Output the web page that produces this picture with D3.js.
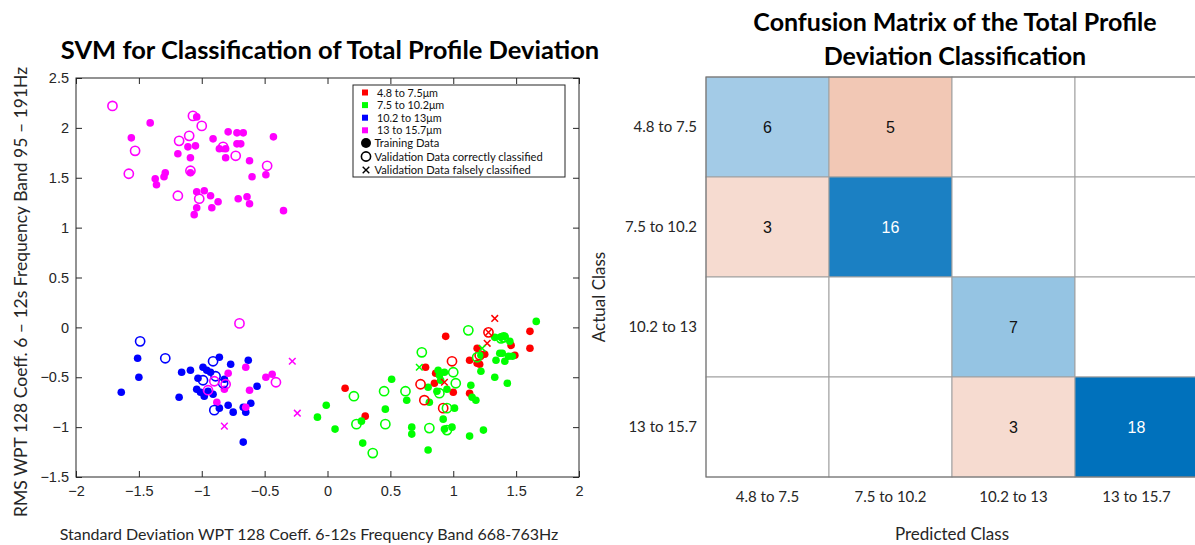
<!DOCTYPE html>
<html>
<head>
<meta charset="utf-8">
<script src="https://cdn.jsdelivr.net/npm/d3@7"></script>
<style>
  body { margin: 0; background: #fff; }
  text { font-family: Lato, sans-serif; }
  .tick text { font-family: "Liberation Sans", Arial, sans-serif; font-size: 14.5px; fill: #262626; }
</style>
</head>
<body>
<div id="chart"></div>
<script>
// ---- scatter data, [x, y] ----
var redTrain = [[0.14,-0.61],[0.30,-0.89],[0.78,-0.40],[0.86,-0.46],[0.85,-0.56],[0.94,-0.09],[1.00,-0.65],
  [1.13,-0.33],[1.13,-0.66],[1.19,-0.21],[1.19,-0.36],[1.21,-0.37],[1.25,-0.27],[1.46,-0.18],[1.49,-0.28],
  [1.61,-0.04],[1.61,-0.21]]
var redValid = [[0.74,-0.57],[0.77,-0.73],[0.92,-0.81],[0.99,-0.34],[1.21,-0.28],[1.28,-0.05]]
var redFalse = [[1.33,0.09],[1.27,-0.16],[0.93,-0.55],[1.28,-0.05]]

var greenTrain = [[-0.08,-0.90],[-0.01,-0.78],[0.06,-1.02],[0.28,-1.16],[0.27,-0.94],[0.46,-0.82],[0.51,-0.52],
  [0.63,-0.73],[0.67,-1.00],[0.67,-1.07],[0.80,-0.60],[0.81,-0.75],[0.80,-1.23],[0.87,-0.64],[0.88,-0.43],
  [0.90,-0.53],[0.93,-0.45],[0.95,-0.62],[0.92,-0.92],[0.93,-1.02],[0.99,-1.00],[1.01,-0.81],[1.14,-0.58],
  [1.15,-0.70],[1.18,-0.73],[1.13,-1.09],[1.24,-1.03],[1.22,-0.44],[1.33,-0.50],[1.43,-0.56],[1.34,-0.33],
  [1.41,-0.34],[1.37,-0.26],[1.39,-0.26],[1.44,-0.29],[1.47,-0.29],[1.33,-0.10],[1.38,-0.10],[1.41,-0.09],
  [1.45,-0.14],[1.66,0.06],[1.22,-0.28],[0.89,-0.48]]
var greenValid = [[0.21,-0.69],[0.23,-0.97],[0.36,-1.26],[0.45,-0.64],[0.46,-0.97],[0.62,-0.64],[0.75,-0.25],
  [0.81,-1.01],[0.89,-0.66],[0.95,-1.03],[0.95,-0.81],[1.00,-0.45],[1.02,-0.56],[1.12,-0.03],[1.19,-0.30],
  [1.38,-0.11],[1.40,-0.10]]
var greenFalse = [[0.73,-0.40],[1.23,-0.21]]

var blueTrain = [[-1.64,-0.65],[-1.51,-0.31],[-1.50,-0.50],[-1.18,-0.70],[-1.16,-0.45],[-1.09,-0.43],
  [-1.03,-0.51],[-0.99,-0.40],[-0.96,-0.43],[-0.93,-0.45],[-1.04,-0.62],[-1.01,-0.65],[-0.98,-0.69],
  [-0.95,-0.64],[-0.91,-0.67],[-0.86,-0.30],[-0.77,-0.37],[-0.63,-0.33],[-0.56,-0.59],[-0.61,-0.76],
  [-0.79,-0.78],[-0.75,-0.85],[-0.86,-0.81],[-0.65,-0.85],[-0.67,-0.80],[-0.67,-1.15],[-0.82,-0.52]]
var blueValid = [[-1.49,-0.14],[-1.29,-0.31],[-0.91,-0.34],[-0.89,-0.49],[-0.99,-0.53],[-0.83,-0.56],[-0.90,-0.83]]
var blueFalse = []

var magentaTrain = [[-1.41,2.05],[-1.56,1.90],[-1.04,2.11],[-0.91,1.89],[-0.79,1.96],[-0.72,1.95],[-0.67,1.95],
  [-0.43,1.91],[-1.11,1.81],[-1.05,1.82],[-0.86,1.79],[-0.81,1.79],[-0.81,1.70],[-0.72,1.84],[-0.69,1.84],
  [-1.19,1.74],[-1.09,1.70],[-0.62,1.67],[-0.60,1.51],[-0.49,1.53],[-1.09,1.55],[-1.29,1.55],[-1.30,1.51],
  [-1.37,1.49],[-1.36,1.43],[-1.04,1.36],[-0.98,1.37],[-0.93,1.32],[-0.87,1.26],[-1.04,1.20],[-1.06,1.13],
  [-0.92,1.20],[-0.71,1.29],[-0.64,1.31],[-0.62,1.24],[-0.35,1.17],
  [-0.79,-0.46],[-0.65,-0.40],[-0.62,-0.63],[-0.49,-0.50],[-0.44,-0.47],[-0.82,-0.62],[-0.88,-0.75],[-0.65,-0.80]]
var magentaValid = [[-1.71,2.22],[-1.07,2.12],[-1.00,2.02],[-1.10,1.92],[-1.18,1.87],[-1.53,1.77],[-0.83,1.81],
  [-0.73,1.72],[-0.48,1.62],[-1.58,1.54],[-1.09,1.57],[-1.19,1.32],[-1.02,1.29],
  [-0.70,0.04],[-0.95,-0.63],[-0.90,-0.54],[-0.81,-0.57],[-0.41,-0.55]]
var magentaFalse = [[-0.28,-0.34],[-0.24,-0.86],[-0.82,-0.99]]

var classNames = ["4.8 to 7.5μm", "7.5 to 10.2μm", "10.2 to 13μm", "13 to 15.7μm"]
var classColors = ["#ff0000", "#00ff00", "#0000ff", "#ff00ff"]
var markerNames = ["Training Data", "Validation Data correctly classified", "Validation Data falsely classified"]
var xTicks = [-2, -1.5, -1, -0.5, 0, 0.5, 1, 1.5, 2]
var yTicks = [-1.5, -1, -0.5, 0, 0.5, 1, 1.5, 2, 2.5]

// ---- confusion matrix data ----
var matrixClasses = ["4.8 to 7.5", "7.5 to 10.2", "10.2 to 13", "13 to 15.7"]
var matrixCounts = [
  [6, 5, 0, 0],
  [3, 16, 0, 0],
  [0, 0, 7, 0],
  [0, 0, 3, 18]]

var svg = d3.select("#chart").append("svg")
  .attr("width", 1195)
  .attr("height", 545)

// ================= scatter =================
var x = d3.scaleLinear().domain([-2, 2]).range([76, 579])
var y = d3.scaleLinear().domain([-1.5, 2.5]).range([477, 78])
var fmt = function(d) { return String(d).replace("-", "\u2212") }

var axisColor = "#262626"
function styleAxis(g) {
  g.select(".domain").remove()
  g.selectAll(".tick line").attr("stroke", axisColor)
}
svg.append("g").attr("transform", "translate(0,477)")
  .call(d3.axisBottom(x).tickValues(xTicks).tickFormat(fmt).tickSizeInner(-6).tickSizeOuter(0).tickPadding(9))
  .call(styleAxis)
svg.append("g").attr("transform", "translate(0,78)")
  .call(d3.axisTop(x).tickValues(xTicks).tickFormat("").tickSizeInner(-6).tickSizeOuter(0))
  .call(styleAxis)
svg.append("g").attr("transform", "translate(76,0)")
  .call(d3.axisLeft(y).tickValues(yTicks).tickFormat(fmt).tickSizeInner(-6).tickSizeOuter(0).tickPadding(7))
  .call(styleAxis)
svg.append("g").attr("transform", "translate(579,0)")
  .call(d3.axisRight(y).tickValues(yTicks).tickFormat("").tickSizeInner(-6).tickSizeOuter(0))
  .call(styleAxis)
svg.append("rect")
  .attr("x", x(-2)).attr("y", y(2.5))
  .attr("width", x(2) - x(-2)).attr("height", y(-1.5) - y(2.5))
  .attr("fill", "none").attr("stroke", axisColor).attr("stroke-width", 1)

var train = [redTrain, greenTrain, blueTrain, magentaTrain]
var valid = [redValid, greenValid, blueValid, magentaValid]
var wrong = [redFalse, greenFalse, blueFalse, magentaFalse]

var plot = svg.append("g")
train.forEach(function(pts, i) {
  plot.append("g").selectAll("circle").data(pts).enter().append("circle")
    .attr("cx", function(d) { return x(d[0]) })
    .attr("cy", function(d) { return y(d[1]) })
    .attr("r", 3.8)
    .attr("fill", classColors[i])
})
valid.forEach(function(pts, i) {
  plot.append("g").selectAll("circle").data(pts).enter().append("circle")
    .attr("cx", function(d) { return x(d[0]) })
    .attr("cy", function(d) { return y(d[1]) })
    .attr("r", 4.6)
    .attr("fill", "none")
    .attr("stroke", classColors[i])
    .attr("stroke-width", 1.6)
})
var cross = "M-3.3,-3.3L3.3,3.3M-3.3,3.3L3.3,-3.3"
wrong.forEach(function(pts, i) {
  plot.append("g").selectAll("path").data(pts).enter().append("path")
    .attr("transform", function(d) { return "translate(" + x(d[0]) + "," + y(d[1]) + ")" })
    .attr("d", cross)
    .attr("stroke", classColors[i])
    .attr("stroke-width", 1.5)
})

// legend
var lg = svg.append("g")
lg.append("rect").attr("x", 353).attr("y", 85).attr("width", 212).attr("height", 92)
  .attr("fill", "#fff").attr("stroke", axisColor)
classNames.forEach(function(name, i) {
  var cy = 92.5 + i * 12.6
  lg.append("rect").attr("x", 362).attr("y", cy - 3).attr("width", 6).attr("height", 6).attr("fill", classColors[i])
  lg.append("text").attr("x", 377).attr("y", cy + 4).attr("font-size", 10.8).attr("fill", "#111").text(name)
})
lg.append("circle").attr("cx", 366).attr("cy", 143).attr("r", 5).attr("fill", "#000")
lg.append("circle").attr("cx", 366).attr("cy", 156.5).attr("r", 4.6).attr("fill", "none").attr("stroke", "#000").attr("stroke-width", 1.6)
lg.append("path").attr("transform", "translate(366,170)").attr("d", cross).attr("stroke", "#000").attr("stroke-width", 1.4)
markerNames.forEach(function(name, i) {
  lg.append("text").attr("x", 374.5).attr("y", 147 + i * 13.5).attr("font-size", 11.2).attr("fill", "#111").text(name)
})

svg.append("text").attr("x", 330).attr("y", 59).attr("text-anchor", "middle")
  .attr("font-size", 25.5).attr("font-weight", "bold").text("SVM for Classification of Total Profile Deviation")
svg.append("text").attr("x", 309).attr("y", 540).attr("text-anchor", "middle")
  .attr("font-size", 16).attr("fill", "#262626")
  .text("Standard Deviation WPT 128 Coeff. 6-12s Frequency Band 668-763Hz")
svg.append("text").attr("transform", "translate(27,292) rotate(-90)").attr("text-anchor", "middle")
  .attr("font-size", 17.5).attr("fill", "#262626")
  .text("RMS WPT 128 Coeff. 6 \u2013 12s Frequency Band 95 \u2013 191Hz")

// ================= confusion matrix =================
var cx = d3.scaleBand().domain(matrixClasses).range([706, 1198])
var cy = d3.scaleBand().domain(matrixClasses).range([77, 477])
var maxCount = d3.max(matrixCounts, function(r) { return d3.max(r) })
var diagColor = d3.scaleLinear().domain([0, 6, maxCount]).range(["#ffffff", "#a3cbe7", "#0071bc"])
var offColor = d3.scaleLinear().domain([0, 3, 5]).range(["#ffffff", "#f6dbd0", "#f2c8b5"])

var cells = []
matrixCounts.forEach(function(row, r) {
  row.forEach(function(v, c) { cells.push({ r: r, c: c, v: v }) })
})
var cm = svg.append("g")
cm.selectAll("rect").data(cells).enter().append("rect")
  .attr("x", function(d) { return cx(matrixClasses[d.c]) })
  .attr("y", function(d) { return cy(matrixClasses[d.r]) })
  .attr("width", cx.bandwidth())
  .attr("height", cy.bandwidth())
  .attr("fill", function(d) { return d.v === 0 ? "#fff" : (d.r === d.c ? diagColor(d.v) : offColor(d.v)) })
  .attr("stroke", "#a0a0a0")
  .attr("stroke-width", 1)
cm.selectAll("text.val").data(cells.filter(function(d) { return d.v > 0 })).enter().append("text")
  .attr("class", "val")
  .attr("x", function(d) { return cx(matrixClasses[d.c]) + cx.bandwidth() / 2 })
  .attr("y", function(d) { return cy(matrixClasses[d.r]) + cy.bandwidth() / 2 })
  .attr("dy", "0.36em")
  .attr("text-anchor", "middle")
  .style("font-family", "'Liberation Sans', Arial, sans-serif")
  .attr("font-size", 16)
  .attr("fill", function(d) { return d.r === d.c && d.v > 10 ? "#fff" : "#111" })
  .text(function(d) { return d.v })
cm.append("rect").attr("x", 706).attr("y", 77).attr("width", 492).attr("height", 400)
  .attr("fill", "none").attr("stroke", "#707070")

cm.selectAll("text.row").data(matrixClasses).enter().append("text")
  .attr("class", "row")
  .attr("x", 697)
  .attr("y", function(d) { return cy(d) + cy.bandwidth() / 2 })
  .attr("dy", "0.35em")
  .attr("text-anchor", "end")
  .attr("font-size", 15).attr("fill", "#262626")
  .text(function(d) { return d })
cm.selectAll("text.col").data(matrixClasses).enter().append("text")
  .attr("class", "col")
  .attr("x", function(d) { return cx(d) + cx.bandwidth() / 2 })
  .attr("y", 502)
  .attr("text-anchor", "middle")
  .attr("font-size", 15).attr("fill", "#262626")
  .text(function(d) { return d })

svg.append("text").attr("x", 952).attr("y", 540).attr("text-anchor", "middle")
  .attr("font-size", 17).attr("fill", "#262626").text("Predicted Class")
svg.append("text").attr("transform", "translate(605,297) rotate(-90)").attr("text-anchor", "middle")
  .attr("font-size", 17).attr("fill", "#262626").text("Actual Class")
svg.append("text").attr("x", 955).attr("y", 31).attr("text-anchor", "middle")
  .attr("font-size", 25).attr("font-weight", "bold").text("Confusion Matrix of the Total Profile")
svg.append("text").attr("x", 955).attr("y", 65).attr("text-anchor", "middle")
  .attr("font-size", 25).attr("font-weight", "bold").text("Deviation Classification")
</script>
</body>
</html>
